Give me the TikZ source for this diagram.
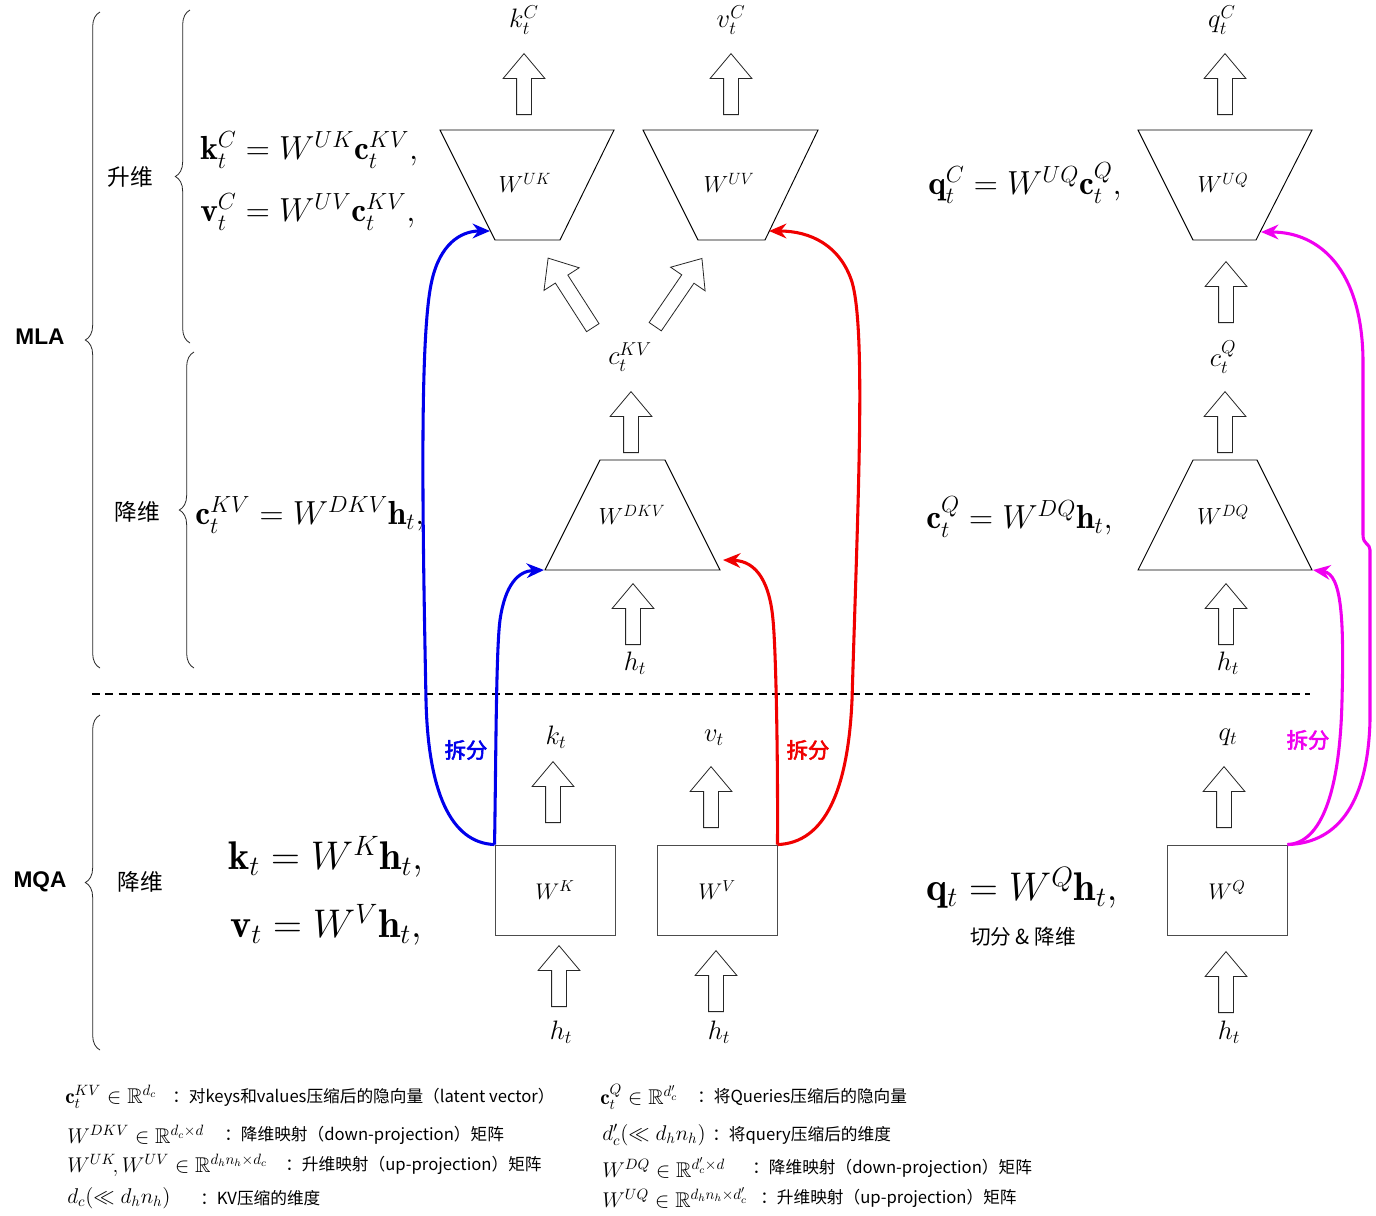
\RequirePackage{fix-cm}
\documentclass[tikz,border=0pt]{standalone}
\usepackage{amsmath,amssymb}
\usepackage{fontspec}
\newfontfamily\cjk{Noto Sans CJK SC}
\newfontfamily\cjkbold[FakeBold=2.5]{Noto Sans CJK SC}
\newfontfamily\lsans{Liberation Sans}
\usetikzlibrary{shapes.arrows,decorations.pathreplacing,arrows.meta}
\definecolor{cblue}{RGB}{0,0,235}
\definecolor{cred}{RGB}{240,0,0}
\definecolor{cmag}{RGB}{240,0,240}
\tikzset{
  barrow/.style={single arrow, draw=black!85, line width=0.6pt, fill=white, inner xsep=0pt, inner ysep=5.25pt,
     minimum height=45.75pt, single arrow head extend=10.125pt,
     single arrow tip angle=80, anchor=tail},
  lbl/.style={inner sep=0pt, font=\fontsize{20}{24}\selectfont},
  wl/.style={inner sep=0pt, font=\fontsize{17.5}{20}\selectfont},
  shapeline/.style={draw=black, line width=0.7pt},
  wbox/.style={draw=black!70, line width=0.7pt, minimum width=90pt, minimum height=67.5pt, inner sep=0pt, font=\fontsize{17}{20}\selectfont},
  fmA/.style={anchor=west, inner sep=0pt, font=\fontsize{25}{28}\selectfont},
  fmB/.style={anchor=west, inner sep=0pt, font=\fontsize{30}{32}\selectfont},
  cjklbl/.style={inner sep=0pt, font=\cjk\fontsize{17}{20}\selectfont},
  splitlbl/.style={inner sep=0pt, font=\cjkbold\fontsize{16}{20}\selectfont},
  grp/.style={inner sep=0pt, font=\lsans\bfseries\fontsize{17}{20}\selectfont},
  brc/.style={decorate, decoration={brace, amplitude=11pt}, line width=0.6pt, draw=black!85},
  conn/.style={line width=2.3pt, -{Stealth[length=13pt,width=11pt]}},
  legm/.style={anchor=west, inner sep=0pt, font=\fontsize{16}{20}\selectfont},
  legt/.style={anchor=west, inner sep=0pt, font=\cjk\fontsize{12.5}{15}\selectfont},
}
\begin{document}
\begin{tikzpicture}[x=0.75pt,y=-0.75pt]
\useasboundingbox (0,0) rectangle (1376,1215);
\fill[white] (0,0) rectangle (1376,1215);

% ---------- braces and group labels ----------
\draw[brc] (100,668) -- (100,12);
\node[grp] (mla) at (40,337) {MLA};
\draw[brc] (190,343) -- (190,10);
\node[cjklbl] (upA) at (130,177) {升维};
\draw[brc] (194,668) -- (194,352);
\node[cjklbl] (downA) at (137,512) {降维};
\draw[brc] (100,1050) -- (100,715);
\node[grp] (mqa) at (40,882) {MQA};
\node[cjklbl] (downB) at (140,882) {降维};

\draw[dashed, line width=1.3pt, dash pattern=on 6pt off 4pt] (92,694) -- (1310,694);

% ---------- formulas ----------
\node[fmA] (fk) at (200,150) {$\mathbf{k}_t^C = W^{UK}\mathbf{c}_t^{KV},$};
\node[fmA] (fv) at (200,212) {$\mathbf{v}_t^C = W^{UV}\mathbf{c}_t^{KV},$};
\node[fmA] (fc) at (195,515) {$\mathbf{c}_t^{KV} = W^{DKV}\mathbf{h}_t,$};
\node[fmA] (fq) at (928,183) {$\mathbf{q}_t^C = W^{UQ}\mathbf{c}_t^{Q},$};
\node[fmA] (fcq) at (926,517) {$\mathbf{c}_t^{Q} = W^{DQ}\mathbf{h}_t,$};
\node[fmB] (fk2) at (228,857) {$\mathbf{k}_t = W^{K}\mathbf{h}_t,$};
\node[fmB] (fv2) at (230,925) {$\mathbf{v}_t = W^{V}\mathbf{h}_t,$};
\node[fmB] (fq2) at (926,888) {$\mathbf{q}_t = W^{Q}\mathbf{h}_t,$};
\node[cjklbl, font=\cjk\fontsize{15.5}{18}\selectfont] (qsplit) at (1023,937) {切分 \& 降维};

% ---------- up-projection trapezoids ----------
\coordinate (UKtl) at (440,130); \coordinate (UKtr) at (614,130);
\coordinate (UKbr) at (560,240); \coordinate (UKbl) at (495,240);
\draw[shapeline] (UKtl) -- (UKtr) -- (UKbr) -- (UKbl) -- cycle;
\node[wl] (UK) at (525,183) {$W^{UK}$};
\coordinate (UKin) at (490,231);

\coordinate (UVtl) at (643,130); \coordinate (UVtr) at (818,130);
\coordinate (UVbr) at (765,240); \coordinate (UVbl) at (698,240);
\draw[shapeline] (UVtl) -- (UVtr) -- (UVbr) -- (UVbl) -- cycle;
\node[wl] (UV) at (729,183) {$W^{UV}$};
\coordinate (UVin) at (769,231);

\coordinate (UQtl) at (1138,130); \coordinate (UQtr) at (1312,130);
\coordinate (UQbr) at (1256,240); \coordinate (UQbl) at (1193,240);
\draw[shapeline] (UQtl) -- (UQtr) -- (UQbr) -- (UQbl) -- cycle;
\node[wl] (UQ) at (1223,183) {$W^{UQ}$};
\coordinate (UQin) at (1261,232);

% ---------- down-projection trapezoids ----------
\coordinate (DKtl) at (600,460); \coordinate (DKtr) at (665,460);
\coordinate (DKbr) at (720,570); \coordinate (DKbl) at (545,570);
\draw[shapeline] (DKtl) -- (DKtr) -- (DKbr) -- (DKbl) -- cycle;
\node[wl] (DKV) at (632,515) {$W^{DKV}$};
\coordinate (DKinL) at (544,570);
\coordinate (DKinR) at (723,560);

\coordinate (DQtl) at (1193,460); \coordinate (DQtr) at (1257,460);
\coordinate (DQbr) at (1312,570); \coordinate (DQbl) at (1138,570);
\draw[shapeline] (DQtl) -- (DQtr) -- (DQbr) -- (DQbl) -- cycle;
\node[wl] (DQ) at (1223,515) {$W^{DQ}$};
\coordinate (DQin) at (1313,570);

% ---------- MQA boxes ----------
\node[wbox] (WK) at (555,890) {$W^{K}$};
\node[wbox] (WV) at (717,890) {$W^{V}$};
\node[wbox] (WQ) at (1227,890) {$W^{Q}$};

% ---------- block arrows (placed by their tail) ----------
\node[barrow, rotate=90] (aKC) at (524,115) {};
\node[barrow, rotate=90] (aVC) at (731,115) {};
\node[barrow, rotate=90] (aQC) at (1225,115) {};
\node[barrow, rotate=122.7, minimum height=62pt] (aTL) at (593,328) {};
\node[barrow, rotate=55.6, minimum height=62pt] (aTR) at (655,327) {};
\node[barrow, rotate=90] (aCKV) at (631,453) {};
\node[barrow, rotate=90] (aHKV) at (633,645) {};
\node[barrow, rotate=90] (aUQ) at (1226,323) {};
\node[barrow, rotate=90] (aCQ) at (1225,453) {};
\node[barrow, rotate=90] (aHQ) at (1226,645) {};
\node[barrow, rotate=90] (aK) at (553,823) {};
\node[barrow, rotate=90] (aV) at (711,828) {};
\node[barrow, rotate=90] (aQ) at (1224,828) {};
\node[barrow, rotate=90] (aH1) at (559,1007) {};
\node[barrow, rotate=90] (aH2) at (716,1012) {};
\node[barrow, rotate=90] (aH3) at (1226,1013) {};

% ---------- variable labels ----------
\node[lbl] (kC) at (524,20) {$k_t^C$};
\node[lbl] (vC) at (731,20) {$v_t^C$};
\node[lbl] (qC) at (1222,20) {$q_t^C$};
\node[lbl] (cKV) at (630,357) {$c_t^{KV}$};
\node[lbl] (cQ) at (1223,357) {$c_t^{Q}$};
\node[lbl] (hA) at (635,663) {$h_t$};
\node[lbl] (hB) at (1228,663) {$h_t$};
\node[lbl] (kt) at (556,737) {$k_t$};
\node[lbl] (vt) at (714,738) {$v_t$};
\node[lbl] (qt) at (1228,737) {$q_t$};
\node[lbl] (h1) at (561,1032) {$h_t$};
\node[lbl] (h2) at (719,1032) {$h_t$};
\node[lbl] (h3) at (1229,1032) {$h_t$};

% ---------- split connectors ----------
\draw[conn, cblue] (WK.north west) .. controls (450,843) and (428,790) .. (426,700)
   .. controls (422,500) and (420,330) .. (432,280)
   .. controls (440,245) and (460,231) .. (UKin);
\draw[conn, cblue] (WK.north west) .. controls (496,760) and (496,650) .. (500,620)
   .. controls (505,585) and (518,571) .. (DKinL);
\draw[conn, cred] (WV.north east) .. controls (778,760) and (776,650) .. (773,620)
   .. controls (770,585) and (758,561) .. (DKinR);
\draw[conn, cred] (WV.north east) .. controls (825,843) and (848,790) .. (852,700)
   .. controls (858,500) and (866,330) .. (852,282)
   .. controls (840,245) and (810,231) .. (UVin);
\draw[conn, cmag] (WQ.north east) .. controls (1322,843) and (1340,790) .. (1342,700)
   .. controls (1344,620) and (1342,574) .. (DQin);
\draw[conn, cmag] (WQ.north east) .. controls (1340,843) and (1368,800) .. (1370,720)
   -- (1370,550) .. controls (1370,543) and (1363,545) .. (1363,535)
   -- (1363,360) .. controls (1362,270) and (1320,232) .. (UQin);
\node[splitlbl, text=cblue] (sB) at (466,750) {拆分};
\node[splitlbl, text=cred] (sR) at (808,750) {拆分};
\node[splitlbl, text=cmag] (sM) at (1308,740) {拆分};

% ---------- legend ----------
\node[legm] (l1m) at (65,1097) {$\mathbf{c}_t^{KV}\in\mathbb{R}^{d_c}$};
\node[legt] (l1t) at (172,1097) {：对keys和values压缩后的隐向量（latent vector）};
\node[legm] (l2m) at (67,1135) {$W^{DKV}\in\mathbb{R}^{d_c\times d}$};
\node[legt] (l2t) at (224,1135) {：降维映射（down-projection）矩阵};
\node[legm] (l3m) at (67,1165) {$W^{UK}\!,W^{UV}\in\mathbb{R}^{d_hn_h\times d_c}$};
\node[legt] (l3t) at (285,1165) {：升维映射（up-projection）矩阵};
\node[legm] (l4m) at (67,1198) {$d_c(\ll d_hn_h)$};
\node[legt] (l4t) at (200,1198) {：KV压缩的维度};

\node[legm] (r1m) at (600,1097) {$\mathbf{c}_t^{Q}\in\mathbb{R}^{d'_c}$};
\node[legt] (r1t) at (697,1097) {：将Queries压缩后的隐向量};
\node[legm] (r2m) at (602,1135) {$d'_c(\ll d_hn_h)$};
\node[legt] (r2t) at (712,1135) {：将query压缩后的维度};
\node[legm] (r3m) at (602,1168) {$W^{DQ}\in\mathbb{R}^{d'_c\times d}$};
\node[legt] (r3t) at (752,1168) {：降维映射（down-projection）矩阵};
\node[legm] (r4m) at (602,1198) {$W^{UQ}\in\mathbb{R}^{d_hn_h\times d'_c}$};
\node[legt] (r4t) at (760,1198) {：升维映射（up-projection）矩阵};
\end{tikzpicture}
\end{document}
